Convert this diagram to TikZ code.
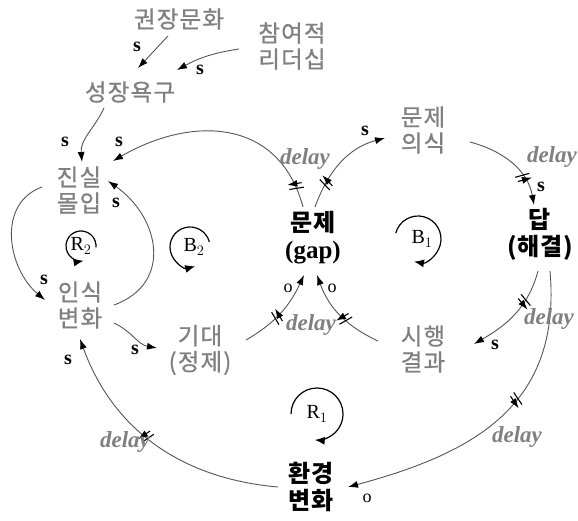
\documentclass[tikz,border=0pt]{standalone}
\usepackage{fontspec}
\setmainfont{Liberation Serif}
\newfontfamily\kr{Noto Sans CJK KR}[LetterSpace=5,FakeBold=0.8]
\newfontfamily\krb{Noto Sans CJK KR}[LetterSpace=3]
\usetikzlibrary{arrows.meta,decorations.markings,calc}
\definecolor{txtgray}{RGB}{128,128,128}
\definecolor{linegray}{RGB}{85,85,85}
\begin{document}
\begin{tikzpicture}[x=1pt,y=1pt,
  gnode/.style={font=\kr\fontsize{23.5}{26}\selectfont, text=txtgray, align=center, inner sep=1pt},
  bnode/.style={font=\krb\bfseries\fontsize{24}{27}\selectfont, align=center, inner sep=1pt},
  lnk/.style={draw=linegray, line width=0.9pt, -{Latex[length=10pt,width=7pt,color=black]}},
  hash/.style={postaction={decorate,decoration={markings,mark=at position #1 with {\draw[black,line width=1.1pt] (-5.5,-7)--(-1.5,7) (-0.5,-7)--(3.5,7);}}}},
  slab/.style={font=\bfseries\fontsize{20}{20}\selectfont, inner sep=0pt},
  olab/.style={font=\fontsize{18}{18}\selectfont, inner sep=0pt},
  dlab/.style={font=\bfseries\itshape\fontsize{23}{23}\selectfont, text=txtgray, inner sep=0pt},
  looplab/.style={font=\fontsize{20}{20}\selectfont, inner sep=0pt},
  loopar/.style={draw=black, line width=1.2pt, -{Latex[length=10pt,width=8pt]}}
]
\useasboundingbox (0,0) rectangle (578,520);
% nodes
\node[gnode] (kw) at (179,501) {권장문화};
\node[gnode] (cy) at (292,474) {참여적\\리더십};
\node[gnode] (sj) at (130,428) {성장욕구};
\node[gnode] (jm) at (79,330) {진실\\몰입};
\node[gnode] (is) at (80,215) {인식\\변화};
\node[gnode] (gd) at (200,170) {기대\\(정제)};
\node[bnode] (gap) at (313,282) {문제\\{\rmfamily\bfseries\fontsize{25}{27}\selectfont (gap)}};
\node[gnode] (pr) at (423,390) {문제\\의식};
\node[bnode] (ans) at (540,286) {답\\(해결)};
\node[gnode] (res) at (423,171) {시행\\결과};
\node[bnode] (env) at (311,33) {환경\\변화};
% loop markers
\node[looplab] (R2) at (81,274) {R$_2$};
\node[looplab] (B2) at (194,273) {B$_2$};
\node[looplab] (B1) at (422,281) {B$_1$};
\node[looplab] (R1) at (317,106) {R$_1$};
\coordinate (r2c) at (81,274);
\coordinate (b2c) at (190,273);
\coordinate (b1c) at (418,281);
\coordinate (r1c) at (317,106);
\draw[loopar] ([shift={(-5:15)}]r2c) arc[start angle=-5, end angle=280, radius=15];
\draw[loopar] ([shift={(15:20)}]b2c) arc[start angle=15, end angle=285, radius=20];
\draw[loopar] ([shift={(165:23)}]b1c) arc[start angle=165, end angle=-100, radius=23];
\draw[loopar] ([shift={(180:26)}]r1c) arc[start angle=180, end angle=-95, radius=26];
% connectors
\draw[lnk] ($(kw)+(-11,-17)$) to ($(sj)+(8,24)$);
\draw[lnk] ($(cy)+(-53,-3)$) to[bend right=10] ($(sj)+(47,22)$);
\draw[lnk] ($(sj)+(-26,-16)$) to[out=245,in=95] ($(jm)+(3,28)$);
\draw[lnk,hash=0.1] ($(gap)+(-10,31)$) to[out=105,in=30,looseness=1.2] ($(jm)+(34,29)$);
\draw[lnk,hash=0.27] ($(gap)+(2,31)$) to[out=70,in=195] ($(pr)+(-38,-8)$);
\draw[lnk,hash=0.7] ($(pr)+(47,-12)$) to[out=-15,in=100] ($(ans)+(-6,29)$);
\draw[lnk] ($(jm)+(-37,3)$) to[out=200,in=140,looseness=1.1] ($(is)+(-35,5)$);
\draw[lnk] ($(is)+(34,0)$) to[out=20,in=-35,looseness=1.3] ($(jm)+(29,9)$);
\draw[lnk] ($(is)+(34,-18)$) to[out=-25,in=170] ($(gd)+(-43,2)$);
\draw[lnk,hash=0.45] ($(gd)+(46,10)$) to[out=30,in=245] ($(gap)+(-9,-37)$);
\draw[lnk,hash=0.45] ($(res)+(-45,8)$) to[out=155,in=290] ($(gap)+(4,-37)$);
\draw[lnk,hash=0.35] ($(ans)+(-2,-37)$) to[out=-105,in=30] ($(res)+(51,5)$);
\draw[lnk,hash=0.42] ($(ans)+(10,-37)$) to[out=-85,in=15,looseness=1.15] ($(env)+(37,0)$);
\draw[lnk,hash=0.55] ($(env)+(-33,0)$) to[out=175,in=-70] ($(is)+(0,-34)$);
% s / o labels
\node[slab] (s1) at (137,473) {s};
\node[slab] (s2) at (200,450) {s};
\node[slab] (s3) at (65,378) {s};
\node[slab] (s4) at (119,378) {s};
\node[slab] (s5) at (365,389) {s};
\node[slab] (s6) at (541,333) {s};
\node[slab] (s7) at (44,240) {s};
\node[slab] (s8) at (116,317) {s};
\node[slab] (s9) at (135,170) {s};
\node[slab] (s10) at (68,160) {s};
\node[slab] (s11) at (495,175) {s};
\node[olab] (o1) at (288,232) {o};
\node[olab] (o2) at (332,232) {o};
\node[olab] (o3) at (367,22) {o};
% delay labels
\node[dlab] (d1) at (305,361) {delay};
\node[dlab,anchor=east] (d2) at (577,363) {delay};
\node[dlab] (d3) at (311,195) {delay};
\node[dlab] (d4) at (549,201) {delay};
\node[dlab] (d5) at (517,83) {delay};
\node[dlab] (d6) at (125,78) {delay};
\end{tikzpicture}
\end{document}
